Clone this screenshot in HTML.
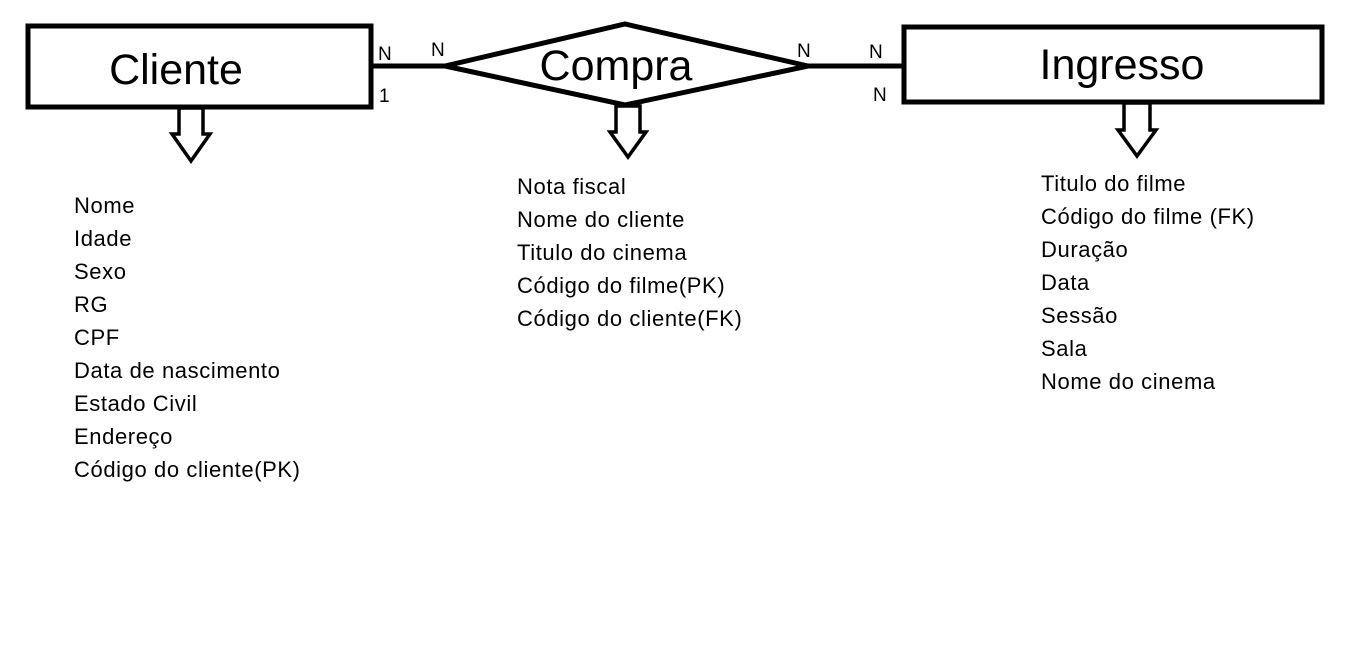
<!DOCTYPE html>
<html><head><meta charset="utf-8"><style>
body{margin:0;background:#fff;width:1360px;height:640px;overflow:hidden;font-family:"Liberation Sans",sans-serif}
</style></head><body>
<svg width="1360" height="640" xmlns="http://www.w3.org/2000/svg" font-family="Liberation Sans, sans-serif">
<rect x="28" y="26" width="343" height="81" fill="none" stroke="#000" stroke-width="5"/>
<rect x="904" y="27" width="418" height="75" fill="none" stroke="#000" stroke-width="5"/>
<polygon points="445,66 625,24 808,66 625,105" fill="none" stroke="#000" stroke-width="5"/>
<line x1="371" y1="66" x2="445" y2="66" stroke="#000" stroke-width="5"/>
<line x1="808" y1="66" x2="904" y2="66" stroke="#000" stroke-width="5"/>
<g fill="none" stroke="#000" stroke-width="3.5">
<polygon points="179,108 203,108 203,134 210,134 191,161 172,134 179,134"/>
<polygon points="616,106 640,106 640,132 646,132 628,157 610,132 616,132"/>
<polygon points="1124,103 1150,103 1150,130 1156,130 1137,156 1118,130 1124,130"/>
</g>
<g font-size="43" fill="#000" text-anchor="middle">
<text x="176" y="84">Cliente</text>
<text x="616" y="80">Compra</text>
<text x="1122" y="79">Ingresso</text>
</g>
<g font-size="19" fill="#000">
<text x="378" y="60">N</text><text x="431" y="56">N</text><text x="379" y="102">1</text>
<text x="797" y="57">N</text><text x="869" y="58">N</text><text x="873" y="101">N</text>
</g>
<g font-size="22" fill="#000" letter-spacing="0.6">
<text x="74" y="213">Nome</text><text x="74" y="246">Idade</text><text x="74" y="279">Sexo</text>
<text x="74" y="312">RG</text><text x="74" y="345">CPF</text><text x="74" y="378">Data de nascimento</text>
<text x="74" y="411">Estado Civil</text><text x="74" y="444">Endereço</text><text x="74" y="477">Código do cliente(PK)</text>
<text x="517" y="194">Nota fiscal</text><text x="517" y="227">Nome do cliente</text><text x="517" y="260">Titulo do cinema</text>
<text x="517" y="293">Código do filme(PK)</text><text x="517" y="326">Código do cliente(FK)</text>
<text x="1041" y="191">Titulo do filme</text><text x="1041" y="224">Código do filme (FK)</text><text x="1041" y="257">Duração</text>
<text x="1041" y="290">Data</text><text x="1041" y="323">Sessão</text><text x="1041" y="356">Sala</text><text x="1041" y="389">Nome do cinema</text>
</g>
</svg>
</body></html>
